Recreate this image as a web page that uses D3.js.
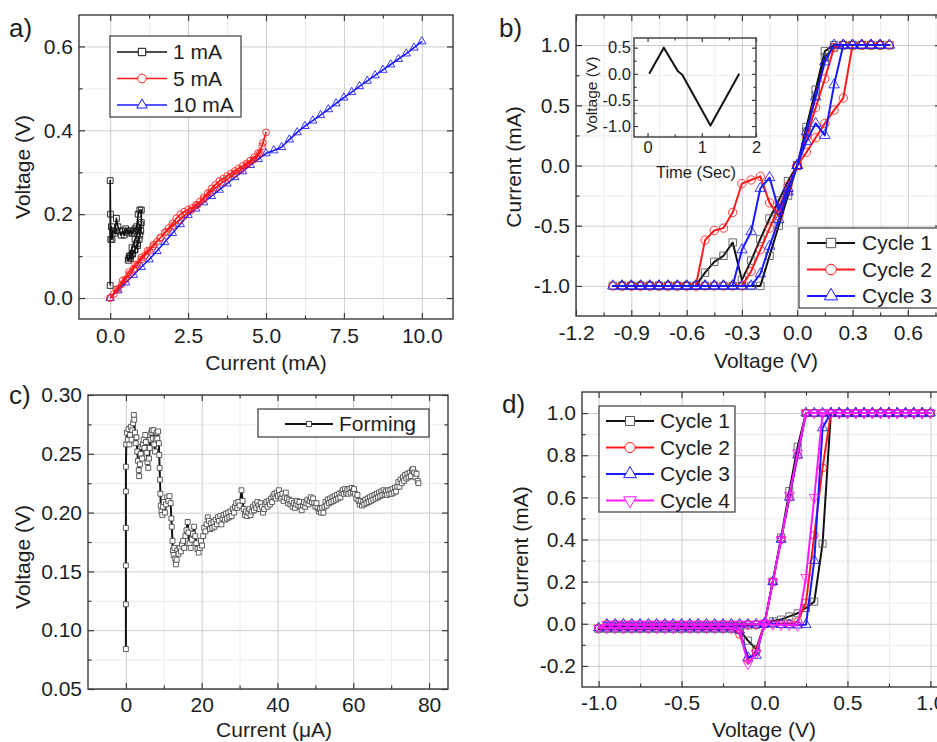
<!DOCTYPE html>
<html>
<head>
<meta charset="utf-8">
<script src="https://cdn.jsdelivr.net/npm/d3@7"></script>
<style>
  body { margin: 0; background: #fff; }
  svg text { font-family: "Liberation Sans", Arial, Helvetica, sans-serif; fill: #1e1e1e; }
</style>
</head>
<body>
<svg id="fig" width="937" height="742"></svg>
<script>
// ---------------- panel a) : voltage vs current for 3 compliance levels ----------------
var aNames = ["1 mA", "5 mA", "10 mA"];
var aOneMA = [[0,0.03],[0,0.28],[0.01,0.2],[0.02,0.14],[0.04,0.17],[0.06,0.14],[0.08,0.16],[0.1,0.16],[0.15,0.155],
    [0.2,0.19],[0.25,0.17],[0.3,0.16],[0.35,0.15],[0.4,0.16],[0.45,0.15],[0.5,0.165],[0.55,0.16],[0.6,0.155],
    [0.65,0.16],[0.7,0.155],[0.75,0.16],[0.8,0.165],[0.85,0.17],[0.9,0.2],[0.95,0.21],[1.0,0.21],[1.0,0.18],
    [0.98,0.16],[0.93,0.14],[0.88,0.125],[0.8,0.115],[0.72,0.105],[0.65,0.095],[0.58,0.09],[0.62,0.1],[0.7,0.12],
    [0.8,0.14],[0.9,0.16],[0.97,0.175],[0.95,0.15],[0.87,0.13],[0.78,0.115],[0.7,0.105],[0.64,0.1],[0.6,0.095]];
var aFiveMA = [[0,0],[0.125,0.01],[0.25,0.021],[0.375,0.033],[0.5,0.045],[0.625,0.057],[0.75,0.069],[0.875,0.08],
    [1,0.092],[1.125,0.102],[1.25,0.112],[1.375,0.123],[1.5,0.134],[1.625,0.145],[1.75,0.156],[1.875,0.167],
    [2,0.178],[2.125,0.19],[2.25,0.2],[2.375,0.206],[2.5,0.211],[2.625,0.215],[2.75,0.222],[2.875,0.23],[3,0.24],
    [3.125,0.25],[3.25,0.261],[3.375,0.27],[3.5,0.279],[3.625,0.285],[3.75,0.291],[3.875,0.297],[4,0.303],
    [4.125,0.309],[4.25,0.315],[4.375,0.321],[4.5,0.328],[4.625,0.336],[4.75,0.346],[4.875,0.362],[5,0.395],
    [4.9,0.37],[4.8,0.345],[4.6,0.33],[4.4,0.318],[4.2,0.306],[4,0.297],[3.8,0.286],[3.6,0.276],[3.4,0.264],
    [3.2,0.252],[3,0.236],[2.8,0.222],[2.6,0.209],[2.4,0.197],[2.2,0.185],[2,0.172],[1.8,0.158],[1.6,0.143],
    [1.4,0.128],[1.2,0.113],[1,0.097],[0.8,0.08],[0.6,0.062],[0.4,0.042],[0.2,0.021],[0,0]];
var aTenMA = [[0,0],[0.25,0.018],[0.5,0.037],[0.75,0.055],[1,0.074],[1.25,0.092],[1.5,0.112],[1.75,0.133],[2,0.155],
    [2.25,0.176],[2.5,0.198],[2.75,0.213],[3,0.228],[3.25,0.243],[3.5,0.258],[3.75,0.273],[4,0.288],[4.25,0.302],
    [4.5,0.317],[4.75,0.331],[5,0.345],[5.25,0.352],[5.5,0.36],[5.75,0.378],[6,0.395],[6.25,0.41],[6.5,0.423],
    [6.75,0.436],[7,0.45],[7.25,0.464],[7.5,0.478],[7.75,0.491],[8,0.505],[8.25,0.518],[8.5,0.531],[8.75,0.544],
    [9,0.557],[9.25,0.57],[9.5,0.583],[9.75,0.597],[10,0.612]];
var aXTicks = [0, 2.5, 5, 7.5, 10], aXMinor = [1.25, 3.75, 6.25, 8.75];
var aYTicks = [0, 0.2, 0.4, 0.6], aYMinor = [0.1, 0.3, 0.5];

// ---------------- panel b) : I-V loops, sweep 0 -> 0.5 -> 0 -> -1 -> 0 V ----------------
var bNames = ["Cycle 1", "Cycle 2", "Cycle 3"];
var bVolt = [0,0.05,0.1,0.15,0.2,0.25,0.3,0.35,0.4,0.45,0.5,
    0.45,0.4,0.35,0.3,0.25,0.2,0.15,0.1,0.05,0,
    -0.05,-0.1,-0.15,-0.2,-0.25,-0.3,-0.35,-0.4,-0.45,-0.5,-0.55,-0.6,-0.65,-0.7,-0.75,-0.8,-0.85,-0.9,-0.95,-1,
    -0.95,-0.9,-0.85,-0.8,-0.75,-0.7,-0.65,-0.6,-0.55,-0.5,-0.45,-0.4,-0.35,-0.3,-0.25,-0.2,-0.15,-0.1,-0.05,0];
var bCycle1 = [0,0.32,0.63,0.95,1,1,1,1,1,1,1,
    1,1,1,1,1,0.98,0.9,0.58,0.28,0,
    -0.25,-0.5,-0.75,-1,-1,-1,-1,-1,-1,-1,-1,-1,-1,-1,-1,-1,-1,-1,-1,-1,
    -1,-1,-1,-1,-1,-1,-1,-1,-1,-0.89,-0.8,-0.75,-0.64,-0.95,-0.79,-0.61,-0.44,-0.29,-0.13,0];
var bCycle2 = [0,0.11,0.23,0.35,0.46,0.56,1,1,1,1,1,
    1,1,1,1,1,0.98,0.72,0.48,0.24,0,
    -0.17,-0.35,-0.52,-0.7,-0.88,-1,-1,-1,-1,-1,-1,-1,-1,-1,-1,-1,-1,-1,-1,-1,
    -1,-1,-1,-1,-1,-1,-1,-1,-1,-0.62,-0.54,-0.52,-0.39,-0.15,-0.12,-0.09,-0.31,-0.42,-0.21,0];
var bCycle3 = [0,0.2,0.35,0.25,0.67,1,1,1,1,1,1,
    1,1,1,1,1,1,0.86,0.57,0.28,0,
    -0.22,-0.45,-0.67,-0.9,-1,-1,-1,-1,-1,-1,-1,-1,-1,-1,-1,-1,-1,-1,-1,-1,
    -1,-1,-1,-1,-1,-1,-1,-1,-1,-1,-1,-1,-1,-0.7,-0.55,-0.19,-0.1,-0.37,-0.19,0];
var bXTicks = [-1.2,-0.9,-0.6,-0.3,0,0.3,0.6], bXMinor = [-1.05,-0.75,-0.45,-0.15,0.15,0.45,0.75];
var bYTicks = [-1,-0.5,0,0.5,1], bYMinor = [-0.75,-0.25,0.25,0.75];
// inset: applied voltage waveform
var insetTime = [0.03, 0.3, 0.56, 0.64, 1.16, 1.69];
var insetVolt = [0, 0.5, 0.05, -0.02, -0.99, 0];
var insetXTicks = [0,1,2], insetXMinor = [0.5,1.5];
var insetYTicks = [-1,-0.5,0,0.5], insetYMinor = [-0.75,-0.25,0.25];

// ---------------- panel c) : forming ----------------
var forming = [[0,0.084],[0,0.122],[0,0.155],[0,0.187],[0,0.218],[0,0.239],[0.1,0.258],
    [0.3,0.268],[0.5,0.262],[0.7,0.271],[0.9,0.258],[1.1,0.266],[1.3,0.273],[1.5,0.262],[1.7,0.27],[1.9,0.276],
    [2.1,0.283],[2.2,0.279],[2.4,0.268],[2.6,0.259],[2.8,0.264],[3,0.252],[3.2,0.244],[3.4,0.236],[3.5,0.231],
    [3.7,0.241],[3.9,0.25],[4.1,0.256],[4.3,0.246],[4.5,0.258],[4.7,0.262],[4.9,0.255],[5.1,0.266],[5.3,0.26],
    [5.5,0.251],[5.7,0.243],[5.9,0.238],[6.1,0.246],[6.3,0.255],[6.5,0.262],[6.7,0.268],[6.9,0.27],[7.1,0.263],
    [7.3,0.27],[7.5,0.258],[7.7,0.252],[7.9,0.262],[8.1,0.268],[8.3,0.263],[8.5,0.269],[8.7,0.259],[8.8,0.249],
    [8.9,0.238],[9,0.228],[9.1,0.216],[9.2,0.206],[9.4,0.201],[9.6,0.198],[9.8,0.205],[10,0.209],[10.3,0.2],
    [10.6,0.207],[10.9,0.213],[11.2,0.21],[11.5,0.214],[11.8,0.208],[12,0.195],[12.1,0.188],[12.3,0.176],
    [12.4,0.168],[12.6,0.164],[12.8,0.17],[13,0.161],[13.2,0.156],[13.4,0.16],[13.6,0.168],[13.9,0.165],
    [14.2,0.17],[14.5,0.167],[14.8,0.173],[15.1,0.176],[15.4,0.17],[15.7,0.18],[16,0.185],[16.3,0.192],
    [16.5,0.183],[16.8,0.174],[17.1,0.17],[17.4,0.177],[17.7,0.182],[18,0.188],[18.3,0.18],[18.6,0.174],
    [18.9,0.169],[19.2,0.166],[19.5,0.17],[19.8,0.176],[20.1,0.172],[20.4,0.18],[20.7,0.187],[21,0.184],
    [21.3,0.19],[21.6,0.196],[21.9,0.193],[22.2,0.186],[22.5,0.191],[22.8,0.187],[23.1,0.192],[23.4,0.188],
    [23.7,0.194],[24,0.19],[24.3,0.196],[24.6,0.193],[24.9,0.197],[25.2,0.19],[25.5,0.195],[25.8,0.198],
    [26.1,0.194],[26.4,0.199],[26.7,0.195],[27,0.2],[27.3,0.196],[27.6,0.201],[27.9,0.197],[28.2,0.203],
    [28.5,0.2],[28.8,0.205],[29.1,0.208],[29.4,0.204],[29.7,0.209],[30,0.206],[30.5,0.219],[30.8,0.21],
    [31.1,0.203],[31.4,0.198],[31.7,0.201],[32,0.197],[32.3,0.2],[32.6,0.203],[32.9,0.198],[33.2,0.201],
    [33.5,0.205],[33.8,0.202],[34.1,0.207],[34.4,0.204],[34.7,0.209],[35,0.206],[35.3,0.203],[35.6,0.208],
    [35.9,0.205],[36.2,0.2],[36.5,0.203],[36.8,0.207],[37.1,0.209],[37.4,0.205],[37.7,0.21],[38,0.207],
    [38.3,0.212],[38.6,0.209],[38.9,0.214],[39.2,0.216],[39.5,0.212],[39.8,0.217],[40.1,0.214],[40.4,0.219],
    [40.7,0.215],[41,0.212],[41.3,0.216],[41.6,0.21],[41.9,0.213],[42.2,0.217],[42.5,0.212],[42.8,0.208],
    [43.1,0.211],[43.4,0.207],[43.7,0.21],[44,0.205],[44.3,0.208],[44.6,0.204],[44.9,0.207],[45.2,0.21],
    [45.5,0.206],[45.8,0.209],[46.1,0.205],[46.4,0.202],[46.7,0.206],[47,0.209],[47.3,0.205],[47.6,0.208],
    [47.9,0.211],[48.2,0.207],[48.5,0.21],[48.8,0.213],[49.1,0.209],[49.4,0.212],[49.7,0.208],[50,0.205],
    [50.3,0.208],[50.6,0.204],[50.9,0.201],[51.2,0.203],[51.5,0.2],[51.8,0.204],[52.1,0.2],[52.4,0.205],
    [52.7,0.209],[53,0.206],[53.3,0.211],[53.6,0.208],[53.9,0.212],[54.2,0.209],[54.5,0.213],[54.8,0.21],
    [55.1,0.214],[55.4,0.211],[55.7,0.215],[56,0.212],[56.3,0.216],[56.6,0.213],[56.9,0.217],[57.2,0.219],
    [57.5,0.216],[57.8,0.22],[58.1,0.217],[58.4,0.219],[58.7,0.216],[59,0.22],[59.3,0.217],[59.6,0.221],
    [59.9,0.218],[60.2,0.22],[60.5,0.216],[60.8,0.212],[61.1,0.215],[61.4,0.21],[61.7,0.207],[62,0.21],
    [62.3,0.206],[62.6,0.209],[62.9,0.207],[63.2,0.211],[63.5,0.208],[63.8,0.212],[64.1,0.209],[64.4,0.213],
    [64.7,0.21],[65,0.214],[65.3,0.211],[65.6,0.215],[65.9,0.212],[66.2,0.216],[66.5,0.213],[66.8,0.217],
    [67.1,0.214],[67.4,0.218],[67.7,0.215],[68,0.219],[68.3,0.216],[68.6,0.218],[68.9,0.215],[69.2,0.219],
    [69.5,0.216],[69.8,0.219],[70.1,0.216],[70.4,0.22],[70.7,0.217],[71,0.221],[71.3,0.218],[71.6,0.222],
    [71.9,0.226],[72.2,0.222],[72.5,0.228],[72.8,0.225],[73.1,0.23],[73.4,0.227],[73.7,0.232],[74,0.229],
    [74.3,0.233],[74.6,0.23],[74.9,0.234],[75.2,0.231],[75.5,0.236],[75.8,0.237],[76.1,0.234],[76.4,0.23],
    [76.7,0.233],[77,0.227],[77.2,0.225]];
var cXTicks = [0,20,40,60,80], cXMinor = [10,30,50,70];
var cYTicks = [0.05,0.1,0.15,0.2,0.25,0.3], cYMinor = [0.075,0.125,0.175,0.225,0.275];

// ---------------- panel d) : I-V loops, sweep 0 -> 1 -> 0 -> -1 -> 0 V ----------------
var dNames = ["Cycle 1", "Cycle 2", "Cycle 3", "Cycle 4"];
var dVolt = [0,0.05,0.1,0.15,0.2,0.25,0.3,0.35,0.4,0.45,0.5,0.55,0.6,0.65,0.7,0.75,0.8,0.85,0.9,0.95,1,
    0.95,0.9,0.85,0.8,0.75,0.7,0.65,0.6,0.55,0.5,0.45,0.4,0.35,0.3,0.25,0.2,0.15,0.1,0.05,0,
    -0.05,-0.1,-0.15,-0.2,-0.25,-0.3,-0.35,-0.4,-0.45,-0.5,-0.55,-0.6,-0.65,-0.7,-0.75,-0.8,-0.85,-0.9,-0.95,-1,
    -0.95,-0.9,-0.85,-0.8,-0.75,-0.7,-0.65,-0.6,-0.55,-0.5,-0.45,-0.4,-0.35,-0.3,-0.25,-0.2,-0.15,-0.1,-0.05,0];
var dCycle1 = [0,0.012,0.02,0.035,0.05,0.075,0.105,0.38,1,1,1,1,1,1,1,1,1,1,1,1,1,
    1,1,1,1,1,1,1,1,1,1,1,1,1,1,1,0.84,0.63,0.41,0.2,0,
    -0.12,-0.08,-0.03,-0.025,-0.025,-0.025,-0.025,-0.025,-0.025,-0.025,-0.025,-0.025,-0.025,-0.025,-0.025,-0.025,-0.025,-0.025,-0.025,-0.025,
    -0.01,-0.01,-0.01,-0.01,-0.01,-0.01,-0.01,-0.01,-0.01,-0.01,-0.01,-0.01,-0.01,-0.01,-0.01,-0.01,-0.01,-0.008,-0.005,0];
var dCycle2 = [0,0,0,0,0.01,0.1,0.42,0.74,1,1,1,1,1,1,1,1,1,1,1,1,1,
    1,1,1,1,1,1,1,1,1,1,1,1,1,1,1,0.8,0.6,0.4,0.2,0,
    -0.13,-0.17,-0.05,-0.02,-0.02,-0.02,-0.02,-0.02,-0.02,-0.02,-0.02,-0.02,-0.02,-0.02,-0.02,-0.02,-0.02,-0.02,-0.02,-0.02,
    -0.002,-0.002,-0.002,-0.002,-0.002,-0.002,-0.002,-0.002,-0.002,-0.002,-0.002,-0.002,-0.002,-0.002,-0.002,-0.002,-0.002,-0.002,-0.002,0];
var dCycle3 = [0,0,-0.004,-0.005,-0.006,-0.004,0.3,0.93,1,1,1,1,1,1,1,1,1,1,1,1,1,
    1,1,1,1,1,1,1,1,1,1,1,1,1,1,1,0.8,0.6,0.4,0.2,0,
    -0.15,-0.16,-0.03,-0.02,-0.02,-0.02,-0.02,-0.02,-0.02,-0.02,-0.02,-0.02,-0.02,-0.02,-0.02,-0.02,-0.02,-0.02,-0.02,-0.02,
    -0.002,-0.002,-0.002,-0.002,-0.002,-0.002,-0.002,-0.002,-0.002,-0.002,-0.002,-0.002,-0.002,-0.002,-0.002,-0.002,-0.002,-0.002,-0.002,0];
var dCycle4 = [0,-0.004,-0.005,-0.006,-0.008,0.22,0.6,1,1,1,1,1,1,1,1,1,1,1,1,1,1,
    1,1,1,1,1,1,1,1,1,1,1,1,1,1,1,0.81,0.61,0.4,0.2,0,
    -0.14,-0.19,-0.03,-0.02,-0.02,-0.02,-0.02,-0.02,-0.02,-0.02,-0.02,-0.02,-0.02,-0.02,-0.02,-0.02,-0.02,-0.02,-0.02,-0.02,
    -0.002,-0.002,-0.002,-0.002,-0.002,-0.002,-0.002,-0.002,-0.002,-0.002,-0.002,-0.002,-0.002,-0.002,-0.002,-0.002,-0.002,-0.002,-0.002,0];
var dXTicks = [-1,-0.5,0,0.5,1], dXMinor = [-0.75,-0.25,0.25,0.75];
var dYTicks = [-0.2,0,0.2,0.4,0.6,0.8,1], dYMinor = [-0.1,0.1,0.3,0.5,0.7,0.9];


var svg = d3.select("#fig");
svg.append("rect").attr("width", 937).attr("height", 742).attr("fill", "#fff");

var fixed = n => (d => d.toFixed(n)); // keeps the plain "-" sign like the original figure

function zip(xs, ys) { return xs.map((v, i) => [v, ys[i]]); }

// grid behind, frame + inward ticks on all four sides in front
function axes(back, front, o) {
    var x = d3.scaleLinear().domain(o.xDomain).range([o.left, o.right]);
    var y = d3.scaleLinear().domain(o.yDomain).range([o.bottom, o.top]);
    var w = o.right - o.left, h = o.bottom - o.top;
    var T = o.tick || 6, t = o.minorTick || 3.5;

    function put(g, axis, tx, ty) {
        var a = g.append("g").attr("transform", "translate(" + tx + "," + ty + ")").call(axis);
        a.select(".domain").remove();
        return a;
    }
    if (o.grid) {
        [[o.xMinor, o.yMinor, "#ececec"], [o.xTicks, o.yTicks, "#cdcdcd"]].forEach(function (s) {
            put(back, d3.axisBottom(x).tickValues(s[0]).tickSize(-h).tickFormat(""), 0, o.bottom)
                .selectAll("line").attr("stroke", s[2]);
            put(back, d3.axisLeft(y).tickValues(s[1]).tickSize(-w).tickFormat(""), o.left, 0)
                .selectAll("line").attr("stroke", s[2]);
        });
    }
    front.append("rect")
        .attr("x", o.left).attr("y", o.top).attr("width", w).attr("height", h)
        .attr("fill", "none").attr("stroke", "#3a3a3a").attr("stroke-width", 1.4);

    var fs = o.fontSize || 21;
    var bottom = put(front, d3.axisBottom(x).tickValues(o.xTicks).tickSize(-T).tickPadding(o.padX || 9).tickFormat(o.xFmt), 0, o.bottom);
    var left = put(front, d3.axisLeft(y).tickValues(o.yTicks).tickSize(-T).tickPadding(o.padY || 6).tickFormat(o.yFmt), o.left, 0);
    put(front, d3.axisBottom(x).tickValues(o.xMinor).tickSize(-t).tickFormat(""), 0, o.bottom);
    put(front, d3.axisLeft(y).tickValues(o.yMinor).tickSize(-t).tickFormat(""), o.left, 0);
    put(front, d3.axisTop(x).tickValues(o.xTicks).tickSize(-T).tickFormat(""), 0, o.top);
    put(front, d3.axisTop(x).tickValues(o.xMinor).tickSize(-t).tickFormat(""), 0, o.top);
    put(front, d3.axisRight(y).tickValues(o.yTicks).tickSize(-T).tickFormat(""), o.right, 0);
    put(front, d3.axisRight(y).tickValues(o.yMinor).tickSize(-t).tickFormat(""), o.right, 0);
    front.selectAll("g.tick line").attr("stroke", "#3a3a3a").attr("stroke-width", 1.2);
    [bottom, left].forEach(a => a.attr("font-family", null).attr("font-size", fs));
    front.selectAll("g.tick text").attr("fill", "#1e1e1e");
    return { x: x, y: y };
}

function symbolType(shape) {
    if (shape === "square") return d3.symbolSquare;
    if (shape === "circle") return d3.symbolCircle;
    return d3.symbolTriangle;
}
function place(px, py, shape) {
    return "translate(" + px + "," + py + ")" + (shape === "down" ? " rotate(180)" : "");
}

function series(g, sc, pts, st) {
    g.append("path").datum(pts)
        .attr("fill", "none").attr("stroke", st.color).attr("stroke-width", st.width)
        .attr("stroke-linejoin", "round")
        .attr("d", d3.line().x(d => sc.x(d[0])).y(d => sc.y(d[1])));
    g.append("g").selectAll("path").data(pts).enter().append("path")
        .attr("transform", d => place(sc.x(d[0]), sc.y(d[1]), st.shape))
        .attr("d", d3.symbol().type(symbolType(st.shape)).size(st.size))
        .attr("fill", st.fill || "none").attr("stroke", st.mcolor || st.color)
        .attr("stroke-width", 1).attr("stroke-opacity", 0.85);
}

function legend(g, o) {
    g.append("rect").attr("x", o.x).attr("y", o.y).attr("width", o.w).attr("height", o.h)
        .attr("fill", "#fff").attr("stroke", "#3a3a3a").attr("stroke-width", 1.2);
    o.items.forEach(function (it, i) {
        var cy = o.y + o.first + i * o.step;
        g.append("line").attr("x1", o.lx).attr("x2", o.lx + o.len).attr("y1", cy).attr("y2", cy)
            .attr("stroke", it.color).attr("stroke-width", it.width);
        g.append("path").attr("transform", place(o.lx + o.len / 2, cy, it.shape))
            .attr("d", d3.symbol().type(symbolType(it.shape)).size(it.lsize || it.size * 1.6))
            .attr("fill", it.fill || "#fff").attr("stroke", it.mcolor || it.color).attr("stroke-width", 1);
        g.append("text").attr("x", o.tx).attr("y", cy).attr("dy", "0.35em").attr("font-size", 21).text(it.name);
    });
}

function title(g, text, px, py, rot, size) {
    g.append("text")
        .attr("transform", "translate(" + px + "," + py + ")" + (rot ? " rotate(-90)" : ""))
        .attr("text-anchor", "middle").attr("dy", rot ? "0.35em" : null)
        .attr("font-size", size || 21).text(text);
}

function panel(id) {
    var g = svg.append("g").attr("id", id);
    return { back: g.append("g"), data: g.append("g"), front: g.append("g"), top: g.append("g") };
}

function clip(p, id, sc) {
    var r = sc.x.range(), s = sc.y.range();
    svg.append("clipPath").attr("id", id).append("rect")
        .attr("x", r[0]).attr("y", s[1]).attr("width", r[1] - r[0]).attr("height", s[0] - s[1]);
    p.data.attr("clip-path", "url(#" + id + ")");
}

// ---- a)
var pa = panel("pa");
var sa = axes(pa.back, pa.front, {
    left: 79, right: 453, top: 15, bottom: 319, xDomain: [-1, 11], yDomain: [-0.05, 0.675],
    xTicks: aXTicks, xMinor: aXMinor, yTicks: aYTicks, yMinor: aYMinor, xFmt: fixed(1), yFmt: fixed(1), grid: true
});
clip(pa, "clip-a", sa);
var aStyles = [
    { color: "#111", shape: "square", size: 34, width: 1.6 },
    { color: "#ff1a1a", shape: "circle", size: 36, width: 1.6 },
    { color: "#1a1aff", shape: "up", size: 30, width: 1.6 }
];
series(pa.data, sa, aTenMA, aStyles[2]);
series(pa.data, sa, aFiveMA, aStyles[1]);
series(pa.data, sa, aOneMA, aStyles[0]);
legend(pa.top, { x: 110, y: 36, w: 131, h: 81, first: 16, step: 26.5, lx: 117, len: 50, tx: 173,
    items: aNames.map((n, i) => Object.assign({ name: n }, aStyles[i])) });
title(pa.top, "Voltage (V)", 23, 167, true);
title(pa.top, "Current (mA)", 266, 370, false);
pa.top.append("text").attr("x", 9).attr("y", 37).attr("font-size", 26).text("a)");

// ---- b)
var pb = panel("pb");
var sb = axes(pb.back, pb.front, {
    left: 576, right: 941, top: 15, bottom: 316, xDomain: [-1.2, 0.78], yDomain: [-1.25, 1.25],
    xTicks: bXTicks, xMinor: bXMinor, yTicks: bYTicks, yMinor: bYMinor, xFmt: fixed(1), yFmt: fixed(1), grid: true
});
clip(pb, "clip-b", sb);
var bStyles = [
    { color: "#111", mcolor: "#555", shape: "square", size: 55, width: 2 },
    { color: "#ff1a1a", shape: "circle", size: 55, width: 2 },
    { color: "#1a1aff", shape: "up", size: 48, width: 2 }
];
[bCycle1, bCycle2, bCycle3].forEach((c, i) => series(pb.data, sb, zip(bVolt, c), bStyles[i]));
legend(pb.top, { x: 799, y: 228, w: 160, h: 80, first: 15, step: 26.5, lx: 807, len: 48, tx: 862,
    items: bNames.map((n, i) => Object.assign({ name: n }, bStyles[i])) });
title(pb.top, "Current (mA)", 514, 167, true);
title(pb.top, "Voltage (V)", 766, 368, false);
pb.top.append("text").attr("x", 499).attr("y", 37).attr("font-size", 26).text("b)");

// inset
var pi = panel("pinset");
var si = axes(pi.back, pi.front, {
    left: 634, right: 756, top: 38, bottom: 137, xDomain: [-0.25, 2], yDomain: [-1.21, 0.685],
    xTicks: insetXTicks, xMinor: insetXMinor, yTicks: insetYTicks, yMinor: insetYMinor,
    xFmt: fixed(0), yFmt: fixed(1), grid: false, fontSize: 16.5, padX: 4, padY: 3, tick: 4, minorTick: 2.5
});
pi.data.append("path").datum(zip(insetTime, insetVolt))
    .attr("fill", "none").attr("stroke", "#111").attr("stroke-width", 2).attr("stroke-linejoin", "round")
    .attr("d", d3.line().x(d => si.x(d[0])).y(d => si.y(d[1])));
title(pi.top, "Voltage (V)", 592, 95, true, 15.5);
title(pi.top, "Time (Sec)", 696, 178, false, 16.5);

// ---- c)
var pc = panel("pc");
var scc = axes(pc.back, pc.front, {
    left: 88, right: 448, top: 395, bottom: 689, xDomain: [-10, 85], yDomain: [0.05, 0.3],
    xTicks: cXTicks, xMinor: cXMinor, yTicks: cYTicks, yMinor: cYMinor, xFmt: fixed(0), yFmt: fixed(2), grid: true, padX: 8
});
clip(pc, "clip-c", scc);
var cStyle = { color: "#111", mcolor: "#444", fill: "#fff", shape: "square", size: 24, width: 2 };
series(pc.data, scc, forming, cStyle);
legend(pc.top, { x: 258, y: 409, w: 171, h: 28, first: 15, step: 0, lx: 285, len: 48, tx: 339,
    items: [Object.assign({ name: "Forming", lsize: 26 }, cStyle)] });
title(pc.top, "Voltage (V)", 23, 557, true);
title(pc.top, "Current (\u03bcA)", 274, 737, false);
pc.top.append("text").attr("x", 9).attr("y", 404).attr("font-size", 26).text("c)");

// ---- d)
var pd = panel("pd");
var sd = axes(pd.back, pd.front, {
    left: 582, right: 947, top: 392, bottom: 687, xDomain: [-1.1, 1.1], yDomain: [-0.3, 1.1],
    xTicks: dXTicks, xMinor: dXMinor, yTicks: dYTicks, yMinor: dYMinor, xFmt: fixed(1), yFmt: fixed(1), grid: true, padX: 8
});
clip(pd, "clip-d", sd);
var dStyles = [
    { color: "#111", mcolor: "#555", shape: "square", size: 50, width: 2 },
    { color: "#ff1a1a", shape: "circle", size: 50, width: 2 },
    { color: "#1a1aff", shape: "up", size: 44, width: 2 },
    { color: "#ff1aff", shape: "down", size: 44, width: 2 }
];
[dCycle1, dCycle2, dCycle3, dCycle4].forEach((c, i) => series(pd.data, sd, zip(dVolt, c), dStyles[i]));
legend(pd.top, { x: 599, y: 406, w: 136, h: 106, first: 15, step: 26.5, lx: 606, len: 48, tx: 660,
    items: dNames.map((n, i) => Object.assign({ name: n }, dStyles[i])) });
title(pd.top, "Current (mA)", 521, 547, true);
title(pd.top, "Voltage (V)", 764, 737, false);
pd.top.append("text").attr("x", 502).attr("y", 413).attr("font-size", 26).text("d)");
</script>
</body>
</html>
